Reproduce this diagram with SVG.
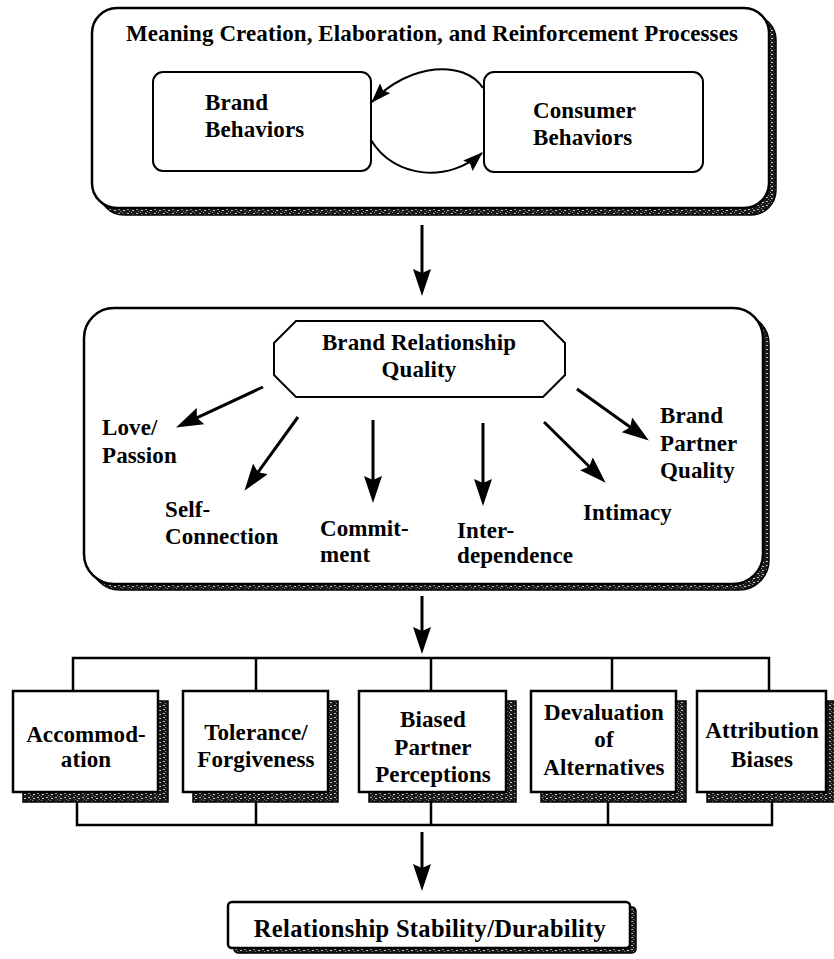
<svg xmlns="http://www.w3.org/2000/svg" width="834" height="959" viewBox="0 0 834 959">
<defs>
<pattern id="grain" width="9" height="4" patternUnits="userSpaceOnUse">
<rect width="9" height="4" fill="#1a1a1a"/>
<rect x="1" y="1" width="2" height="1" fill="#bbb"/>
<rect x="5" y="0" width="1" height="1" fill="#999"/>
<rect x="6" y="2" width="2" height="1" fill="#ccc"/>
<rect x="3" y="3" width="1" height="1" fill="#888"/>
</pattern>
<marker id="ah" viewBox="0 0 27 18" refX="6" refY="9" markerWidth="27" markerHeight="18" orient="auto" markerUnits="userSpaceOnUse">
<path d="M0,0 L27,9 L0,18 L4,9 z" fill="#000"/>
</marker>
<marker id="ah2" viewBox="0 0 20 14" refX="19" refY="7" markerWidth="20" markerHeight="14" orient="auto" markerUnits="userSpaceOnUse">
<path d="M0,0 L20,7 L0,14 L3,7 z" fill="#000"/>
</marker>
</defs>
<style>
text{font-family:"Liberation Serif","Times New Roman",serif;font-weight:bold;font-size:23px;letter-spacing:0.1px;fill:#000}
.c{text-anchor:middle}
.box{fill:#fff;stroke:#000;stroke-width:2.5}
.ibox{fill:#fff;stroke:#000;stroke-width:2}
.sh{fill:url(#grain);stroke:#000;stroke-width:1.5}
.ln{fill:none;stroke:#000;stroke-width:3}
.thin{fill:none;stroke:#000;stroke-width:2}
.br{fill:none;stroke:#000;stroke-width:2.5}
</style>
<rect width="834" height="959" fill="#fff"/>

<g id="processes">
<rect class="sh" x="99" y="15" width="677" height="200" rx="25"/>
<rect class="box" x="92" y="8" width="677" height="200" rx="25"/>
<text class="c" x="432" y="41">Meaning Creation, Elaboration, and Reinforcement Processes</text>
</g>
<g id="brand-behaviors">
<rect class="ibox" x="153" y="72" width="218" height="99" rx="10"/>
<text x="205" y="110">Brand</text>
<text x="205" y="137">Behaviors</text>
</g>
<g id="consumer-behaviors">
<rect class="ibox" x="484" y="72" width="219" height="100" rx="10"/>
<text x="533" y="118">Consumer</text>
<text x="533" y="145">Behaviors</text>
</g>

<g id="relationship-quality-panel">
<rect class="sh" x="90" y="314" width="679" height="276" rx="30"/>
<rect class="box" x="84" y="308" width="679" height="276" rx="30"/>
</g>
<g id="brq">
<polygon class="ibox" points="296,321 543,321 565,343 565,375 543,397 296,397 274,375 274,343"/>
<text class="c" x="419" y="350">Brand Relationship</text>
<text class="c" x="419" y="377">Quality</text>
</g>
<g id="love"><text x="102" y="435">Love/</text><text x="102" y="463">Passion</text></g>
<g id="self"><text x="165" y="517">Self-</text><text x="165" y="544">Connection</text></g>
<g id="commitment"><text x="320" y="536">Commit-</text><text x="320" y="562">ment</text></g>
<g id="interdependence"><text x="457" y="538">Inter-</text><text x="457" y="563">dependence</text></g>
<g id="intimacy"><text x="583" y="520">Intimacy</text></g>
<g id="partner-quality"><text x="660" y="423">Brand</text><text x="660" y="451">Partner</text><text x="660" y="478">Quality</text></g>

<g id="accommodation">
<rect class="sh" x="23" y="701" width="145" height="101"/>
<rect class="box" x="13" y="691" width="145" height="101"/>
<text class="c" x="86" y="742">Accommod-</text>
<text class="c" x="86" y="767">ation</text>
</g>
<g id="tolerance">
<rect class="sh" x="193" y="701" width="145" height="101"/>
<rect class="box" x="183" y="691" width="145" height="101"/>
<text class="c" x="256" y="740">Tolerance/</text>
<text class="c" x="256" y="767">Forgiveness</text>
</g>
<g id="biased">
<rect class="sh" x="369" y="701" width="147" height="101"/>
<rect class="box" x="359" y="691" width="147" height="101"/>
<text class="c" x="433" y="727">Biased</text>
<text class="c" x="433" y="755">Partner</text>
<text class="c" x="433" y="782">Perceptions</text>
</g>
<g id="devaluation">
<rect class="sh" x="541" y="701" width="145" height="101"/>
<rect class="box" x="531" y="691" width="145" height="101"/>
<text class="c" x="604" y="720">Devaluation</text>
<text class="c" x="604" y="747">of</text>
<text class="c" x="604" y="775">Alternatives</text>
</g>
<g id="attribution">
<rect class="sh" x="707" y="701" width="129" height="101"/>
<rect class="box" x="697" y="691" width="129" height="101"/>
<text class="c" x="762" y="738">Attribution</text>
<text class="c" x="762" y="767">Biases</text>
</g>

<g id="stability">
<rect class="sh" x="234" y="907" width="402" height="46" rx="4"/>
<rect class="box" x="228" y="902" width="402" height="46" rx="4"/>
<text class="c" x="430" y="937" style="font-size:24.5px;letter-spacing:0.3px">Relationship Stability/Durability</text>
</g>

<g id="connectors">
<path class="thin" d="M483,88 C465,60 410,62 372,102" marker-end="url(#ah2)"/>
<path class="thin" d="M371,140 C395,180 450,182 482,153" marker-end="url(#ah2)"/>
<line class="ln" x1="422" y1="225" x2="422" y2="275" marker-end="url(#ah)"/>
<line class="ln" x1="263" y1="387" x2="195.1" y2="418.6" marker-end="url(#ah)"/>
<line class="ln" x1="298" y1="417" x2="256.8" y2="473.8" marker-end="url(#ah)"/>
<line class="ln" x1="373" y1="420" x2="373" y2="482" marker-end="url(#ah)"/>
<line class="ln" x1="483" y1="423" x2="483" y2="485" marker-end="url(#ah)"/>
<line class="ln" x1="544" y1="422" x2="590.7" y2="468" marker-end="url(#ah)"/>
<line class="ln" x1="577" y1="389" x2="631.8" y2="428.3" marker-end="url(#ah)"/>
<line class="ln" x1="422" y1="596" x2="422" y2="633" marker-end="url(#ah)"/>
<path class="br" d="M73,691 V658 H769 V691 M256,658 V691 M431,658 V691 M612,658 V691"/>
<path class="br" d="M77,802 V825 H772 V802 M256,802 V825 M431,802 V825 M608,802 V825"/>
<line class="ln" x1="422" y1="832" x2="422" y2="870" marker-end="url(#ah)"/>
</g>
</svg>
